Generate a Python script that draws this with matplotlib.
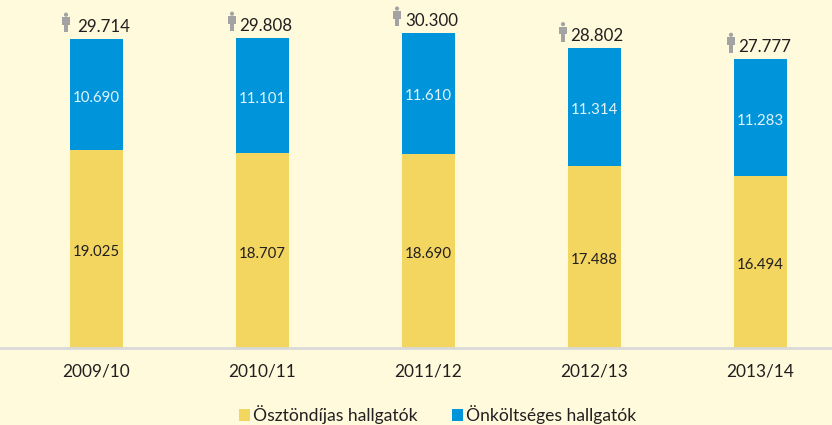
import matplotlib
matplotlib.use("Agg")
from matplotlib import pyplot as plt
from matplotlib.patches import Circle, Polygon
from matplotlib.transforms import IdentityTransform

plt.rcParams['font.family'] = ['Lato', 'DejaVu Sans']

#DATOS
evek = ['2009/10', '2010/11', '2011/12', '2012/13', '2013/14']
osztondijas = [19025, 18707, 18690, 17488, 16494]
onkoltseges = [10690, 11101, 11610, 11314, 11283]
osszes = [29714, 29808, 30300, 28802, 27777]
osszes_felirat = ['29.714', '29.808', '30.300', '28.802', '27.777']

HATTER = '#FFFADB'
SARGA = '#F3D660'
KEK = '#0095DA'
SZOVEG = '#231F20'
SZURKE = '#A3A3A3'

fig = plt.figure(figsize=(8.32, 4.25), dpi=100, facecolor=HATTER)
ax = fig.add_axes([0, 77 / 425, 1, 348 / 425], facecolor=HATTER)


def felirat(n):
    return f'{n:,}'.replace(',', '.')


x = list(range(len(evek)))
ax.bar(x, osztondijas, width=0.32, color=SARGA, label='Ösztöndíjas hallgatók')
ax.bar(x, onkoltseges, width=0.32, bottom=osztondijas, color=KEK, label='Önköltséges hallgatók')

ax.set_xlim(-96.5 / 166, (832 - 96.5) / 166)
ax.set_ylim(0, 348 / 0.0104)

# az osszeg felirat vizszintes eltolasa, pontban
eltolas = [5.4, 2.2, 2.5, 1.8, 3.2]
for i in x:
    ax.annotate(felirat(osztondijas[i]), (i, osztondijas[i] / 2), xytext=(0, -2.2),
                textcoords='offset points', ha='center', va='center', fontsize=10.8, color=SZOVEG)
    ax.annotate(felirat(onkoltseges[i]), (i, osztondijas[i] + onkoltseges[i] / 2), xytext=(0, -2.2),
                textcoords='offset points', ha='center', va='center', fontsize=10.8, color='#E3F3FA')
    ax.annotate(osszes_felirat[i], (i, osszes[i]), xytext=(eltolas[i], 3), textcoords='offset points',
                ha='center', va='bottom', fontsize=12.2, color=SZOVEG)

# kis emberke ikon az osszeg mellett (pixelben, a felso ertekhez kotve)
fig.canvas.draw()
ikon_x = [-30.5, -30.5, -31.5, -31.5, -29.5]
for i in x:
    px, py = ax.transData.transform((i, osszes[i]))
    cx = px + ikon_x[i]
    alja = py + 6.5
    elemek = [
        Circle((cx, alja + 17.8), 2.1),
        Polygon([(cx - 3.6, alja + 15.2), (cx + 3.6, alja + 15.2), (cx + 3.6, alja + 7.5),
                 (cx + 2.4, alja + 7.5), (cx + 2.4, alja), (cx - 2.4, alja),
                 (cx - 2.4, alja + 7.5), (cx - 3.6, alja + 7.5)], closed=True),
    ]
    for e in elemek:
        e.set_transform(IdentityTransform())
        e.set_facecolor(SZURKE)
        e.set_edgecolor('none')
        fig.add_artist(e)

ax.set_yticks([])
ax.set_xticks(x)
ax.set_xticklabels(evek, fontsize=12.4, color=SZOVEG)
ax.tick_params(axis='x', length=0, pad=11)
for s in ['top', 'left', 'right']:
    ax.spines[s].set_visible(False)
ax.spines['bottom'].set_color('#D9D9D9')
ax.spines['bottom'].set_linewidth(2)

fig.legend(loc='lower center', bbox_to_anchor=(0.526, -0.035), ncol=2, frameon=False,
           fontsize=12.6, handlelength=0.63, handleheight=0.63, handletextpad=0.17,
           columnspacing=2.0, labelcolor=SZOVEG)

fig.savefig('out.png', dpi=100, facecolor=HATTER)
